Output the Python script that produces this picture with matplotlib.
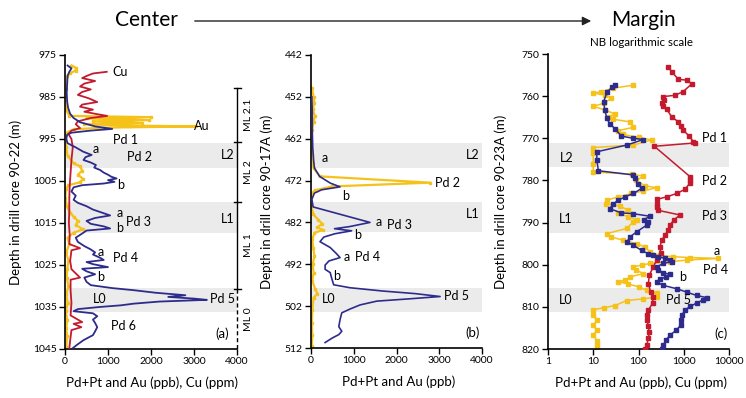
import matplotlib
matplotlib.use("Agg")
import matplotlib.pyplot as plt
from matplotlib.patches import FancyArrowPatch
from matplotlib.transforms import blended_transform_factory

plt.rcParams['font.family'] = ['Lato', 'DejaVu Sans']

# ---------------- core 90-22 (panel a) ----------------
a_pd_depth = [977.5, 978.2, 979.0, 980.0, 982.0, 984.0, 986.0, 987.5, 989.0, 990.0,
              991.0, 992.0, 992.6, 993.0, 993.5, 994.0, 995.0, 996.0, 997.0, 998.0,
              998.8, 999.3, 1000.0, 1000.6, 1001.2, 1001.8, 1002.4, 1003.0, 1003.5, 1004.0,
              1004.4, 1004.8, 1005.2, 1005.6, 1006.0, 1006.5, 1007.5, 1008.5, 1009.5, 1010.2,
              1011.0, 1011.8, 1012.5, 1013.2, 1013.8, 1014.5, 1015.2, 1015.8, 1016.3, 1016.8,
              1017.5, 1018.5, 1019.5, 1020.5, 1021.3, 1022.0, 1022.5, 1023.3, 1023.8, 1024.3,
              1024.8, 1025.5, 1025.9, 1026.5, 1027.2, 1028.0, 1029.0, 1029.8, 1030.5, 1031.0,
              1031.6, 1032.2, 1032.6, 1033.0, 1033.3, 1033.7, 1034.2, 1034.6, 1035.0, 1035.5,
              1036.0, 1036.5, 1037.2, 1038.0, 1038.8, 1039.8, 1040.8, 1041.7, 1042.9, 1044.0,
              1044.8]
a_pd_val = [60, 150, 100, 60, 50, 40, 50, 70, 120, 200,
            350, 700, 1100, 600, 150, 50, 30, 60, 250, 420,
            620, 480, 430, 600, 720, 680, 820, 900, 1000, 1080,
            1200, 1000, 1150, 900, 400, 200, 150, 250, 200, 300,
            500, 650, 850, 1050, 700, 500, 600, 900, 1050, 500,
            400, 250, 300, 450, 600, 700, 650, 820, 900, 500,
            650, 1000, 400, 500, 700, 450, 500, 600, 1100, 1600,
            2100, 2800, 2400, 3000, 3300, 2200, 1600, 1300, 800, 300,
            200, 650, 750, 650, 700, 750, 700, 650, 430, 280,
            180]

a_cu_depth = [979.0, 979.4, 980.0, 980.5, 981.2, 981.8, 982.5, 983.2, 983.8, 984.5,
              985.3, 986.2, 986.8, 987.3, 988.0, 988.5, 989.0, 989.5, 990.0, 990.8,
              991.5, 992.4, 993.0, 993.8, 995.0, 997.0, 1000.0, 1003.0, 1006.0, 1009.0,
              1012.0, 1015.0, 1018.0, 1020.0, 1021.0, 1021.5, 1024.0, 1026.0, 1028.0, 1028.5,
              1031.0, 1034.0, 1037.0, 1038.6, 1039.0, 1039.8, 1040.5, 1043.0, 1044.8]
a_cu_val = [970, 650, 500, 400, 700, 450, 350, 600, 400, 300,
            550, 750, 400, 350, 650, 450, 700, 980, 600, 300,
            250, 350, 150, 80, 150, 180, 150, 130, 110, 100,
            100, 90, 110, 100, 350, 150, 120, 150, 350, 130,
            130, 150, 130, 400, 200, 380, 150, 120, 100]

a_au_depth = [977.5, 978.0, 978.7, 979.3, 980.0, 983.0, 986.0, 988.0, 989.5, 989.8,
              990.1, 990.5, 990.8, 991.2, 991.5, 991.8, 992.0, 992.3, 992.7, 993.5,
              995.0, 997.0, 999.0, 1000.8, 1001.5, 1002.5, 1003.5, 1004.5, 1005.3, 1006.0,
              1007.0, 1009.0, 1011.0, 1012.5, 1013.5, 1014.5, 1015.5, 1016.5, 1017.3, 1018.5,
              1020.0, 1022.0, 1024.0, 1026.0, 1028.0, 1030.0, 1032.0, 1034.0, 1036.0, 1038.0,
              1040.0, 1042.0, 1044.5]
a_au_val = [150, 250, 250, 120, 50, 20, 10, 30, 100, 2000,
            500, 1950, 650, 1800, 450, 1500, 3050, 900, 200, 40,
            10, 30, 60, 200, 350, 400, 300, 420, 350, 80,
            20, 10, 40, 120, 200, 300, 250, 420, 200, 60,
            100, 30, 80, 50, 40, 80, 30, 60, 20, 50,
            30, 50, 30]

# ---------------- core 90-17A (panel b) ----------------
b_pd_depth = [452.0, 456.0, 460.0, 464.0, 467.0, 469.0, 471.0, 472.6, 473.5, 474.2,
              475.0, 476.5, 478.3, 482.0, 483.0, 483.5, 484.0, 484.7, 485.5, 486.6,
              488.0, 489.3, 490.4, 491.2, 492.2, 493.2, 494.0, 495.2, 496.9, 497.6,
              498.4, 499.0, 499.7, 500.3, 500.8, 501.7, 502.7, 503.6, 505.2, 506.9,
              508.0, 508.8, 509.6, 510.7]
b_pd_val = [20, 30, 30, 40, 60, 80, 200, 450, 680, 250,
            80, 20, 50, 1380, 900, 550, 950, 560, 300, 210,
            450, 580, 680, 420, 330, 330, 450, 480, 530, 910,
            1690, 2430, 3020, 2240, 1540, 1150, 910, 720, 680, 650,
            720, 650, 500, 330]

b_au_depth = [450.0, 452.0, 453.5, 455.0, 456.5, 458.0, 460.0, 463.0, 466.0, 469.0,
              471.0, 472.5, 473.4, 474.3, 475.0, 478.0, 480.0, 481.4, 482.3, 483.2,
              483.8, 484.5, 486.0, 488.0, 490.0, 492.0, 494.0, 496.0, 498.0, 499.0,
              500.0, 503.0, 506.0, 509.0, 511.5]
b_au_val = [20, 60, 80, 40, 90, 60, 20, 10, 30, 60,
            210, 2790, 500, 100, 20, 10, 50, 170, 260, 150,
            280, 80, 30, 50, 80, 40, 60, 30, 100, 150,
            60, 30, 20, 30, 20]

# ---------------- core 90-23A (panel c, log scale) ----------------
c_pd_depth = [757.4, 757.9, 759.1, 761.3, 763.3, 765.3, 766.5, 767.7, 769.5, 770.0,
              770.3, 771.6, 773.2, 775.2, 777.7, 778.7, 779.5, 780.9, 781.9, 783.1,
              783.9, 784.7, 785.5, 786.7, 787.7, 787.9, 788.5, 789.3, 789.8, 790.6,
              792.2, 793.4, 794.6, 795.4, 796.6, 797.4, 797.8, 798.1, 798.5, 798.9,
              799.3, 799.7, 800.5, 801.3, 801.9, 802.3, 802.9, 803.5, 804.1, 804.9,
              805.7, 806.5, 807.3, 807.8, 808.4, 809.1, 809.9, 810.8, 812.0, 813.2,
              814.4, 815.6, 816.7, 817.9, 819.1, 820.0]
c_pd_val = [30, 26, 20, 17, 18, 20, 23, 30, 42, 77,
            128, 55, 12, 12, 13, 77, 82, 99, 117, 77,
            50, 36, 28, 23, 42, 77, 180, 132, 165, 152,
            91, 65, 55, 77, 117, 165, 212, 274, 385, 497,
            540, 354, 252, 274, 354, 497, 400, 299, 252, 354,
            698, 1161, 1932, 3212, 2600, 1932, 1374, 1066, 900, 880,
            850, 675, 497, 405, 354, 338]

c_cu_depth = [753.0, 754.2, 756.0, 756.2, 757.1, 758.9, 759.8, 760.1, 760.9, 761.7,
              762.4, 763.1, 764.9, 766.1, 767.0, 768.1, 769.5, 770.8, 771.1, 771.9,
              779.1, 779.9, 780.5, 782.1, 783.1, 783.9, 784.5, 785.5, 786.3, 787.1,
              788.2, 789.4, 790.6, 791.8, 793.0, 794.2, 795.8, 797.3, 798.9, 800.5,
              802.5, 804.5, 806.5, 807.7, 809.1, 810.8, 812.0, 813.2, 814.6, 816.0,
              817.5, 819.1, 820.1]
c_cu_val = [456, 541, 759, 1161, 1497, 977, 641, 354, 366, 336,
            354, 419, 541, 759, 856, 977, 1327, 1627, 1773, 224,
            1374, 1374, 1400, 1066, 698, 419, 252, 252, 252, 274,
            826, 600, 500, 450, 385, 325, 299, 308, 252, 212,
            173, 165, 186, 212, 205, 165, 152, 156, 165, 173,
            165, 152, 139]

c_au_depth = [757.4, 758.1, 758.9, 759.3, 759.7, 760.5, 761.7, 762.4, 763.3, 764.2,
              764.9, 765.5, 766.1, 767.4, 768.2, 769.1, 769.8, 770.4, 771.6, 772.2,
              773.6, 776.0, 778.0, 778.5, 779.0, 780.0, 781.3, 781.7, 782.5, 783.1,
              783.9, 784.7, 785.5, 786.1, 787.1, 787.8, 788.6, 789.4, 789.8, 791.4,
              792.6, 793.4, 794.2, 795.0, 795.8, 797.0, 797.8, 798.1, 798.3, 798.5,
              798.9, 799.3, 799.7, 800.1, 800.5, 801.3, 802.1, 802.9, 803.7, 804.0,
              804.6, 805.3, 806.1, 806.8, 807.7, 808.1, 808.5, 809.7, 810.2, 810.7,
              812.0, 813.2, 814.4, 815.6, 816.7, 818.0, 819.1, 820.0]
c_au_val = [77, 28, 15, 10, 18, 25, 17, 10, 18, 30,
            22, 28, 65, 77, 35, 46, 100, 195, 77, 10,
            10, 10, 10, 71, 128, 90, 139, 252, 128, 70,
            36, 20, 19, 39, 60, 35, 60, 91, 77, 55,
            20, 25, 46, 91, 139, 180, 300, 590, 1374, 5800,
            1161, 497, 180, 117, 77, 90, 128, 65, 50, 35,
            60, 105, 152, 252, 252, 128, 55, 30, 17, 10,
            10, 12, 10, 12, 10, 12, 12, 12]

# horizons (depth ranges) shaded in each core
a_bands = [(996.0, 1002.0), (1010.0, 1017.4), (1030.5, 1036.2)]
b_bands = [(463.0, 469.0), (477.0, 484.4), (497.6, 503.3)]
c_bands = [(771.1, 776.8), (785.2, 792.5), (805.6, 811.3)]

# ML unit boundaries in core 90-22
ml_bounds = [982.8, 995.7, 1010.0, 1030.7, 1045.0]
ml_names = ["ML 2.1", "ML 2", "ML 1", "ML 0"]

BLUE = '#2D2C8C'
RED = '#C41A2E'
GOLD = '#F5C21A'
BAND = '#EBEBEB'

W, H = 746, 398
fig = plt.figure(figsize=(W / 100, H / 100), dpi=100)


def box(l, t, r, b):
    return [l / W, 1 - b / H, (r - l) / W, (b - t) / H]


def style(ax):
    for s in ('top', 'right'):
        ax.spines[s].set_visible(False)
    for s in ('left', 'bottom'):
        ax.spines[s].set_linewidth(1.2)
    ax.tick_params(direction='out', length=4, width=1.0, labelsize=7.5, pad=2)
    ax.minorticks_off()


axA = fig.add_axes(box(65, 55, 237, 349))
axB = fig.add_axes(box(311, 55, 482, 348))
axC = fig.add_axes(box(548, 54, 729, 349))

# ---- panel a ----
for d0, d1 in a_bands:
    axA.axhspan(d0, d1, color=BAND, lw=0, zorder=0)
axA.plot(a_au_val, a_au_depth, color=GOLD, lw=1.6, marker='s', ms=1.8, zorder=2)
axA.plot(a_cu_val, a_cu_depth, color=RED, lw=1.3, zorder=3)
axA.plot(a_pd_val, a_pd_depth, color=BLUE, lw=1.3, zorder=4)
axA.set_xlim(0, 4000)
axA.set_ylim(1045, 975)
axA.set_xticks([0, 1000, 2000, 3000, 4000])
axA.set_yticks(range(975, 1046, 10))
style(axA)
axA.set_ylabel('Depth in drill core 90-22 (m)', fontsize=9.5)
axA.yaxis.set_label_coords(-0.25, 0.5)
axA.set_xlabel('Pd+Pt and Au (ppb), Cu (ppm)', fontsize=9.5)
axA.xaxis.set_label_coords(0.506, -0.092)

tA = blended_transform_factory(axA.transAxes, axA.transData)
axA.plot([1, 1], [ml_bounds[0], ml_bounds[3]], color='black', lw=1.0,
         transform=tA, clip_on=False)
axA.plot([1, 1], [ml_bounds[3], ml_bounds[4]], color='black', lw=1.0,
         ls=(0, (3, 2)), transform=tA, clip_on=False)
for d in ml_bounds[:4]:
    axA.plot([0.983, 1.022], [d, d], color='black', lw=1.0, transform=tA, clip_on=False)
for name, d0, d1 in zip(ml_names, ml_bounds[:-1], ml_bounds[1:]):
    axA.text(1.064, (d0 + d1) / 2, name, transform=tA, rotation=90,
             ha='center', va='center', fontsize=7.5)

lab = dict(fontsize=9, va='center', ha='left', zorder=6)
axA.text(1100, 979.0, 'Cu', **lab)
axA.text(3000, 991.9, 'Au', **lab)
axA.text(1120, 995.2, 'Pd 1', **lab)
axA.text(650, 997.3, 'a', **lab)
axA.text(1440, 999.3, 'Pd 2', **lab)
axA.text(1210, 1006.0, 'b', **lab)
axA.text(3950, 998.8, 'L2', fontsize=9, va='center', ha='right')
axA.text(3950, 1014.0, 'L1', fontsize=9, va='center', ha='right')
axA.text(1190, 1012.6, 'a', **lab)
axA.text(1420, 1014.8, 'Pd 3', **lab)
axA.text(1190, 1016.2, 'b', **lab)
axA.text(750, 1021.9, 'a', **lab)
axA.text(1120, 1023.3, 'Pd 4', **lab)
axA.text(750, 1027.9, 'b', **lab)
axA.text(650, 1033.1, 'L0', **lab)
axA.text(3370, 1033.1, 'Pd 5', **lab)
axA.text(1070, 1039.5, 'Pd 6', **lab)
axA.text(3820, 1041.4, '(a)', fontsize=9.5, va='center', ha='right')

# ---- panel b ----
for d0, d1 in b_bands:
    axB.axhspan(d0, d1, color=BAND, lw=0, zorder=0)
axB.plot(b_au_val, b_au_depth, color=GOLD, lw=1.6, marker='s', ms=1.8, zorder=2)
axB.plot(b_pd_val, b_pd_depth, color=BLUE, lw=1.2, zorder=4)
axB.set_xlim(0, 4000)
axB.set_ylim(512, 442)
axB.set_xticks([0, 1000, 2000, 3000, 4000])
axB.set_yticks(range(442, 513, 10))
style(axB)
axB.set_ylabel('Depth in drill core 90-17A (m)', fontsize=9.5)
axB.yaxis.set_label_coords(-0.222, 0.5)
axB.set_xlabel('Pd+Pt and Au (ppb)', fontsize=9.5)
axB.xaxis.set_label_coords(0.515, -0.092)

axB.text(250, 466.7, 'a', **lab)
axB.text(3950, 465.9, 'L2', fontsize=9, va='center', ha='right')
axB.text(2900, 472.6, 'Pd 2', **lab)
axB.text(720, 475.7, 'b', **lab)
axB.text(3950, 480.0, 'L1', fontsize=9, va='center', ha='right')
axB.text(1500, 481.9, 'a', **lab)
axB.text(1780, 482.7, 'Pd 3', **lab)
axB.text(1000, 485.0, 'b', **lab)
axB.text(770, 490.3, 'a', **lab)
axB.text(1030, 490.3, 'Pd 4', **lab)
axB.text(520, 494.7, 'b', **lab)
axB.text(250, 500.3, 'L0', **lab)
axB.text(3110, 499.5, 'Pd 5', **lab)
axB.text(3950, 508.4, '(b)', fontsize=9.5, va='center', ha='right')

# ---- panel c ----
for d0, d1 in c_bands:
    axC.axhspan(d0, d1, color=BAND, lw=0, zorder=0)
mk = dict(marker='s', ms=2.2, lw=1.1)
axC.plot(c_au_val, c_au_depth, color=GOLD, zorder=2, **mk)
axC.plot(c_cu_val, c_cu_depth, color=RED, zorder=3, **mk)
axC.plot(c_pd_val, c_pd_depth, color=BLUE, zorder=4, **mk)
axC.set_xscale('log')
axC.set_xlim(1, 10000)
axC.set_ylim(820, 750)
axC.set_xticks([1, 10, 100, 1000, 10000])
axC.set_xticklabels(['1', '10', '100', '1000', '10000'])
axC.set_yticks(range(750, 821, 10))
style(axC)
axC.set_ylabel('Depth in drill core 90-23A (m)', fontsize=9.5)
axC.yaxis.set_label_coords(-0.227, 0.5)
axC.set_xlabel('Pd+Pt and Au (ppb), Cu (ppm)', fontsize=9.5)
axC.xaxis.set_label_coords(0.514, -0.092)

axC.text(2490, 770.0, 'Pd 1', **lab)
axC.text(1.84, 774.6, 'L2', **lab)
axC.text(2490, 780.1, 'Pd 2', **lab)
axC.text(1.78, 789.1, 'L1', **lab)
axC.text(2490, 788.4, 'Pd 3', **lab)
axC.text(4500, 796.7, 'a', **lab)
axC.text(2710, 801.3, 'Pd 4', **lab)
axC.text(773, 803.0, 'b', **lab)
axC.text(1.78, 808.4, 'L0', **lab)
axC.text(398, 808.3, 'Pd 5', **lab)
axC.text(9180, 816.3, '(c)', fontsize=9.5, va='center', ha='right')

# ---- header ----
fig.text(146 / W, 1 - 20 / H, 'Center', fontsize=15, ha='center', va='center')
fig.text(643 / W, 1 - 20 / H, 'Margin', fontsize=15, ha='center', va='center')
fig.text(641 / W, 1 - 43 / H, 'NB logarithmic scale', fontsize=8.3, ha='center', va='center')
fig.add_artist(FancyArrowPatch((192 / W, 1 - 21 / H), (594 / W, 1 - 21 / H),
                               transform=fig.transFigure, arrowstyle='-|>',
                               mutation_scale=13, lw=1.0, color='#222222'))

fig.savefig('out.png', dpi=100)
